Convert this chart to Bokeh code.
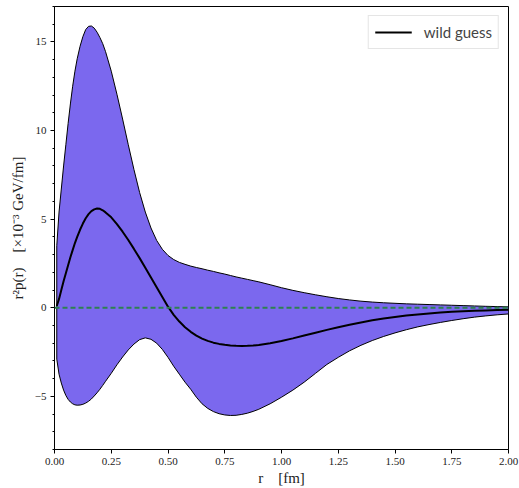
from bokeh.plotting import figure
from bokeh.models import Range1d, FixedTicker, NumeralTickFormatter, Span, Legend, LegendItem
from bokeh.embed import file_html
from bokeh.resources import INLINE

r = [0.01, 0.02, 0.03, 0.04, 0.05, 0.06, 0.07, 0.08, 0.09, 0.10,
     0.1125, 0.125, 0.1375, 0.15, 0.1625, 0.175, 0.1875, 0.2, 0.2125, 0.225,
     0.25, 0.275, 0.3, 0.325, 0.35, 0.375, 0.4, 0.425, 0.45, 0.475, 0.5, 0.525, 0.55, 0.575,
     0.6, 0.625, 0.65, 0.675, 0.7, 0.725, 0.75, 0.775, 0.8, 0.825, 0.85, 0.875, 0.9,
     0.95, 1.0, 1.05, 1.1, 1.15, 1.2, 1.25, 1.3, 1.35, 1.4, 1.45, 1.5, 1.55, 1.6, 1.65,
     1.7, 1.75, 1.8, 1.85, 1.9, 1.95, 2.0]
upper = [3.5, 5.4, 6.7, 8.0, 9.2, 10.4, 11.5, 12.5, 13.35, 14.05,
         14.75, 15.3, 15.7, 15.88, 15.9, 15.78, 15.55, 15.25, 14.9, 14.45,
         13.35, 12.05, 10.65, 9.2, 7.8, 6.5, 5.4, 4.5, 3.8, 3.3, 2.95, 2.72, 2.56, 2.45,
         2.35, 2.27, 2.2, 2.12, 2.05, 1.97, 1.9, 1.82, 1.74, 1.67, 1.6, 1.53, 1.46,
         1.3, 1.13, 0.98, 0.85, 0.73, 0.62, 0.52, 0.44, 0.37, 0.32, 0.28, 0.25, 0.22, 0.2, 0.18,
         0.16, 0.14, 0.12, 0.1, 0.08, 0.065, 0.05]
mean = [0.1, 0.5, 1.0, 1.5, 1.95, 2.4, 2.85, 3.25, 3.65, 4.0,
        4.4, 4.75, 5.05, 5.28, 5.45, 5.55, 5.6, 5.58, 5.5, 5.38,
        5.1, 4.72, 4.29, 3.82, 3.32, 2.8, 2.26, 1.71, 1.16, 0.61, 0.06, -0.4, -0.78, -1.1,
        -1.36, -1.57, -1.74, -1.87, -1.97, -2.04, -2.09, -2.13, -2.15, -2.16, -2.15, -2.13, -2.1,
        -2.0, -1.88, -1.73, -1.57, -1.41, -1.25, -1.1, -0.96, -0.83, -0.71, -0.61, -0.52, -0.44, -0.38, -0.32,
        -0.27, -0.23, -0.2, -0.17, -0.15, -0.13, -0.11]
lower = [-2.9, -3.75, -4.25, -4.65, -4.95, -5.17, -5.32, -5.42, -5.48, -5.5,
         -5.49, -5.45, -5.38, -5.28, -5.15, -4.98, -4.8, -4.6, -4.38, -4.15,
         -3.7, -3.22, -2.78, -2.38, -2.05, -1.8, -1.7, -1.78, -2.0, -2.35, -2.8, -3.3, -3.75, -4.2,
         -4.6, -5.05, -5.42, -5.68, -5.86, -5.98, -6.05, -6.08, -6.07, -6.02, -5.95, -5.85, -5.73,
         -5.42, -5.05, -4.65, -4.2, -3.7, -3.2, -2.8, -2.43, -2.12, -1.85, -1.62, -1.42, -1.24, -1.08, -0.95,
         -0.83, -0.72, -0.62, -0.53, -0.46, -0.4, -0.35]

x_ticks = [0, 0.25, 0.5, 0.75, 1.0, 1.25, 1.5, 1.75, 2.0]
y_ticks = [-5, 0, 5, 10, 15]

p = figure(width=519, height=488, output_backend="svg", toolbar_location=None,
           x_range=Range1d(0, 2), y_range=Range1d(-8, 17),
           min_border_left=54, min_border_right=11, min_border_top=6, min_border_bottom=38)
p.grid.visible = False
p.outline_line_color = "black"
p.outline_line_width = 1

p.varea(x=r, y1=lower, y2=upper, fill_color="mediumslateblue", fill_alpha=1.0)
xs_poly = r + r[::-1]
ys_poly = upper + lower[::-1]
p.patch(xs_poly, ys_poly, fill_alpha=0, line_color="black", line_width=1)

zero = Span(location=0, dimension="width", line_color="#2e8050", line_width=2, line_dash="5 3")
p.add_layout(zero)

ml = p.line(r, mean, line_color="black", line_width=2)

legend = Legend(items=[LegendItem(label="wild guess", renderers=[ml])], location="top_right")
legend.label_text_font = "Lato"
legend.label_text_font_size = "15px"
legend.border_line_color = "#cccccc"
legend.border_line_width = 1
legend.glyph_width = 37
legend.padding = 6
legend.margin = 9
legend.label_standoff = 12
legend.background_fill_alpha = 0.9
p.add_layout(legend)

for ax in (p.xaxis, p.yaxis):
    ax.axis_line_color = "black"
    ax.major_tick_line_color = "black"
    ax.minor_tick_line_color = "black"
    ax.major_tick_out = 4
    ax.major_tick_in = 0
    ax.minor_tick_out = 2
    ax.minor_tick_in = 0
    ax.major_label_text_font = "Liberation Serif"
    ax.major_label_text_font_size = "11px"
    ax.major_label_text_color = "#222222"
    ax.axis_label_text_font = "Liberation Serif"
    ax.axis_label_text_font_size = "15px"
    ax.axis_label_text_font_style = "normal"
    ax.axis_label_text_color = "#222222"

sp = "\u00a0" * 4
p.xaxis.ticker = FixedTicker(ticks=x_ticks)
p.xaxis.formatter = NumeralTickFormatter(format="0.00")
p.xaxis.major_label_standoff = 4
p.xaxis.axis_label = "r" + sp + "[fm]"
p.xaxis.axis_label_standoff = 2

p.yaxis.ticker = FixedTicker(ticks=y_ticks, minor_ticks=list(range(-8, 18)))
p.yaxis.major_label_overrides = {-5: "\u22125"}
p.yaxis.major_label_standoff = 4
p.yaxis.axis_label = "r\u00b2p(r)" + sp + "[\u00d710\u207b\u00b3 GeV/fm]"
p.yaxis.axis_label_standoff = 6

open("out.html", "w").write(file_html(p, INLINE))
